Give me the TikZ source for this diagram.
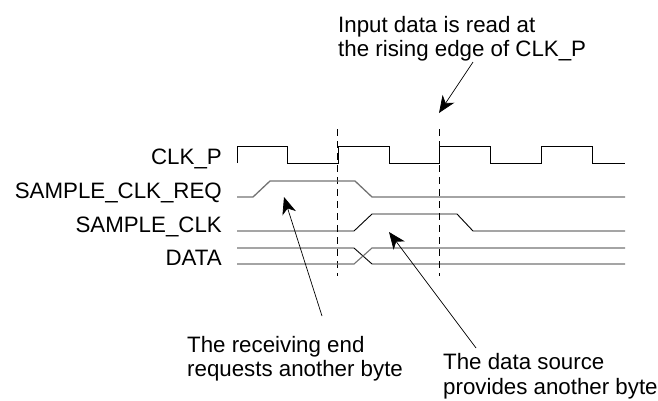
\documentclass[tikz,border=0pt]{standalone}
\usepackage{fontspec}
\setmainfont{Liberation Sans}
\usetikzlibrary{arrows.meta}
\begin{document}
\begin{tikzpicture}[x=1pt,y=-1pt,
  lbl/.style={font=\fontsize{22.3}{24.5}\selectfont, inner sep=0pt, anchor=base east},
  note/.style={font=\fontsize{22.3}{24.5}\selectfont, inner sep=0pt, align=left, anchor=base west},
  sig/.style={line width=0.9pt, black},
  sigg/.style={line width=1.3pt, black!55},
  marker/.style={line width=0.9pt, dash pattern=on 7pt off 5pt},
  pointer/.style={line width=0.7pt, -{Stealth[length=17pt,width=14pt,inset=5pt]}}]
\useasboundingbox (0,0) rectangle (658,400);
% signal names
\node[lbl] (nclk) at (222,164) {CLK\_P};
\node[lbl] (nreq) at (222,198) {SAMPLE\_CLK\_REQ};
\node[lbl] (nsclk) at (222,232) {SAMPLE\_CLK};
\node[lbl] (ndata) at (222,265) {DATA};
% dashed markers
\coordinate (m1t) at (337.5,129);
\coordinate (m1b) at (337.5,276);
\coordinate (m2t) at (439.5,129);
\coordinate (m2b) at (439.5,276);
\draw[marker] (m1t) -- (m1b);
\draw[marker] (m2t) -- (m2b);
% CLK_P
\draw[sig] (237,163) -- (237,146) -- (287.5,146) -- (287.5,163) -- (338,163) -- (338,146)
  -- (389,146) -- (389,163) -- (439.5,163) -- (439.5,146) -- (490.5,146) -- (490.5,163)
  -- (541,163) -- (541,146) -- (592,146) -- (592,163) -- (625,163);
% SAMPLE_CLK_REQ
\draw[sigg] (237,197) -- (253,197) -- (270,181) -- (355,181) -- (372,197) -- (625,197);
% SAMPLE_CLK
\draw[sig] (237,231) -- (354,231) -- (372,214) -- (457,214) -- (473,231) -- (625,231);
% DATA
\draw[sig] (237,248) -- (354,248) -- (372,264) -- (625,264);
\draw[sigg, line width=1.1pt] (237,264) -- (354,264) -- (372,248) -- (625,248);
% notes (base anchor = last line)
\node[note] (top) at (338,56.5) {Input data is read at\\the rising edge of CLK\_P};
\node[note] (recv) at (187,376.7) {The receiving end\\requests another byte};
\node[note] (src) at (443,394) {The data source\\provides another byte};
% pointers
\coordinate (a1s) at (473,62);
\coordinate (a1e) at (439,113);
\coordinate (a2s) at (322,316);
\coordinate (a2e) at (284,197);
\coordinate (a3s) at (476,348);
\coordinate (a3e) at (389,232);
\draw[pointer] (a1s) -- (a1e);
\draw[pointer] (a2s) -- (a2e);
\draw[pointer] (a3s) -- (a3e);
\end{tikzpicture}
\end{document}
